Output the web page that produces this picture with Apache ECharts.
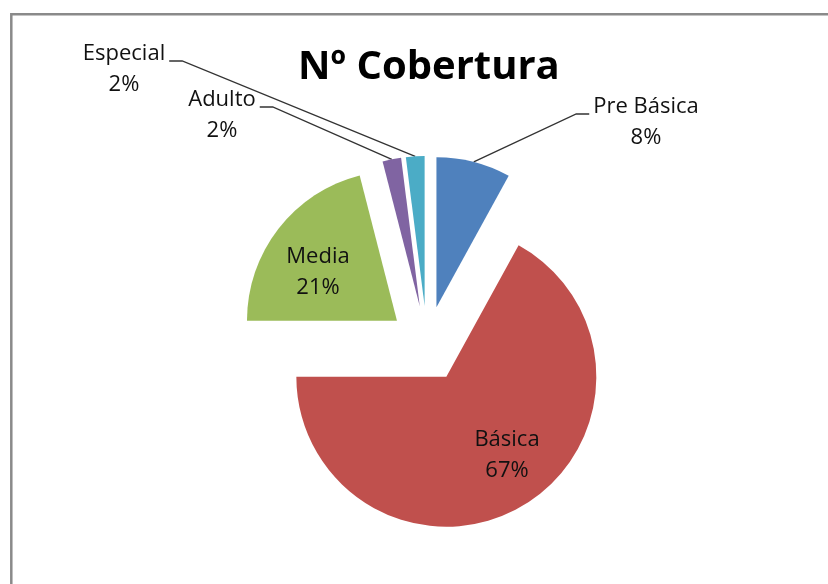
<!DOCTYPE html>
<html>
<head>
<meta charset="utf-8">
<script src="https://cdn.jsdelivr.net/npm/echarts@6/dist/echarts.min.js"></script>
<style>
  html, body { margin: 0; padding: 0; background: #fff; }
  #chart { width: 828px; height: 584px; }
</style>
</head>
<body>
<div id="chart"></div>
<script>
const categories = ['Pre Básica', 'Básica', 'Media', 'Adulto', 'Especial'];
const values = [8, 67, 21, 2, 2];
const colors = ['#4F81BD', '#C0504D', '#9BBB59', '#8064A2', '#4BACC6'];
const insideLabels = ['Básica', 'Media'];
// label centres (Excel lets the labels sit where they were dragged)
const labelSpots = [[646, 122], [507, 455], [318, 272], [222, 115], [124, 69]];

const pieCenter = [427, 344];
const pieRadius = 150;
const explode = 38;

// every slice is pulled out along its own middle angle, so each one gets
// its own pie series (all values kept so the library computes the angles)
const total = values.reduce(function (a, b) { return a + b; }, 0);
let acc = 0;
const series = categories.map(function (name, k) {
  const mid = (acc + values[k] / 2) / total * 2 * Math.PI;
  acc += values[k];
  const inside = insideLabels.indexOf(name) >= 0;
  return {
    type: 'pie',
    radius: pieRadius,
    center: [pieCenter[0] + explode * Math.sin(mid), pieCenter[1] - explode * Math.cos(mid)],
    startAngle: 90,
    clockwise: true,
    avoidLabelOverlap: false,
    emphasis: { disabled: true },
    label: {
      formatter: '{b}\n{d}%',
      fontFamily: 'Open Sans',
      fontSize: 22,
      lineHeight: 31,
      color: '#111'
    },
    labelLine: {
      length: 10,
      length2: 14,
      lineStyle: { color: '#333', width: 1.3 }
    },
    labelLayout: function (p) {
      if (p.dataIndex !== k) return {};
      const s = labelSpots[k];
      const out = { x: s[0], y: s[1], align: 'center', verticalAlign: 'middle' };
      const pts = p.labelLinePoints;
      if (!inside && pts && pts.length) {
        // Excel hooks the leader onto the first text line, not the box middle
        const start = pts[0];
        const half = p.labelRect.width / 2 + 4;
        const side = start[0] < s[0] ? -1 : 1;
        const ex = s[0] + side * half;
        const ey = s[1] - 8;
        out.labelLinePoints = [start, [ex + side * 13, ey], [ex, ey]];
      }
      return out;
    },
    data: categories.map(function (n, j) {
      const own = j === k;
      return {
        name: n,
        value: values[j],
        itemStyle: { color: own ? colors[j] : 'transparent', borderWidth: 0 },
        label: { show: own, position: inside ? 'inside' : 'outside' },
        labelLine: { show: own && !inside }
      };
    })
  };
});

const chart = echarts.init(document.getElementById('chart'));

chart.setOption({
  animation: false,
  backgroundColor: '#fff',
  title: {
    text: 'Nº Cobertura',
    left: 298,
    top: 48,
    padding: 0,
    textStyle: { fontFamily: 'Open Sans', fontWeight: 'bold', fontSize: 40, color: '#000' }
  },
  graphic: [
    {
      type: 'rect',
      silent: true,
      shape: { x: 11.3, y: 14.3, width: 900, height: 700 },
      style: { fill: 'none', stroke: '#8a8a8a', lineWidth: 2.5 }
    }
  ],
  series: series
});
</script>
</body>
</html>
